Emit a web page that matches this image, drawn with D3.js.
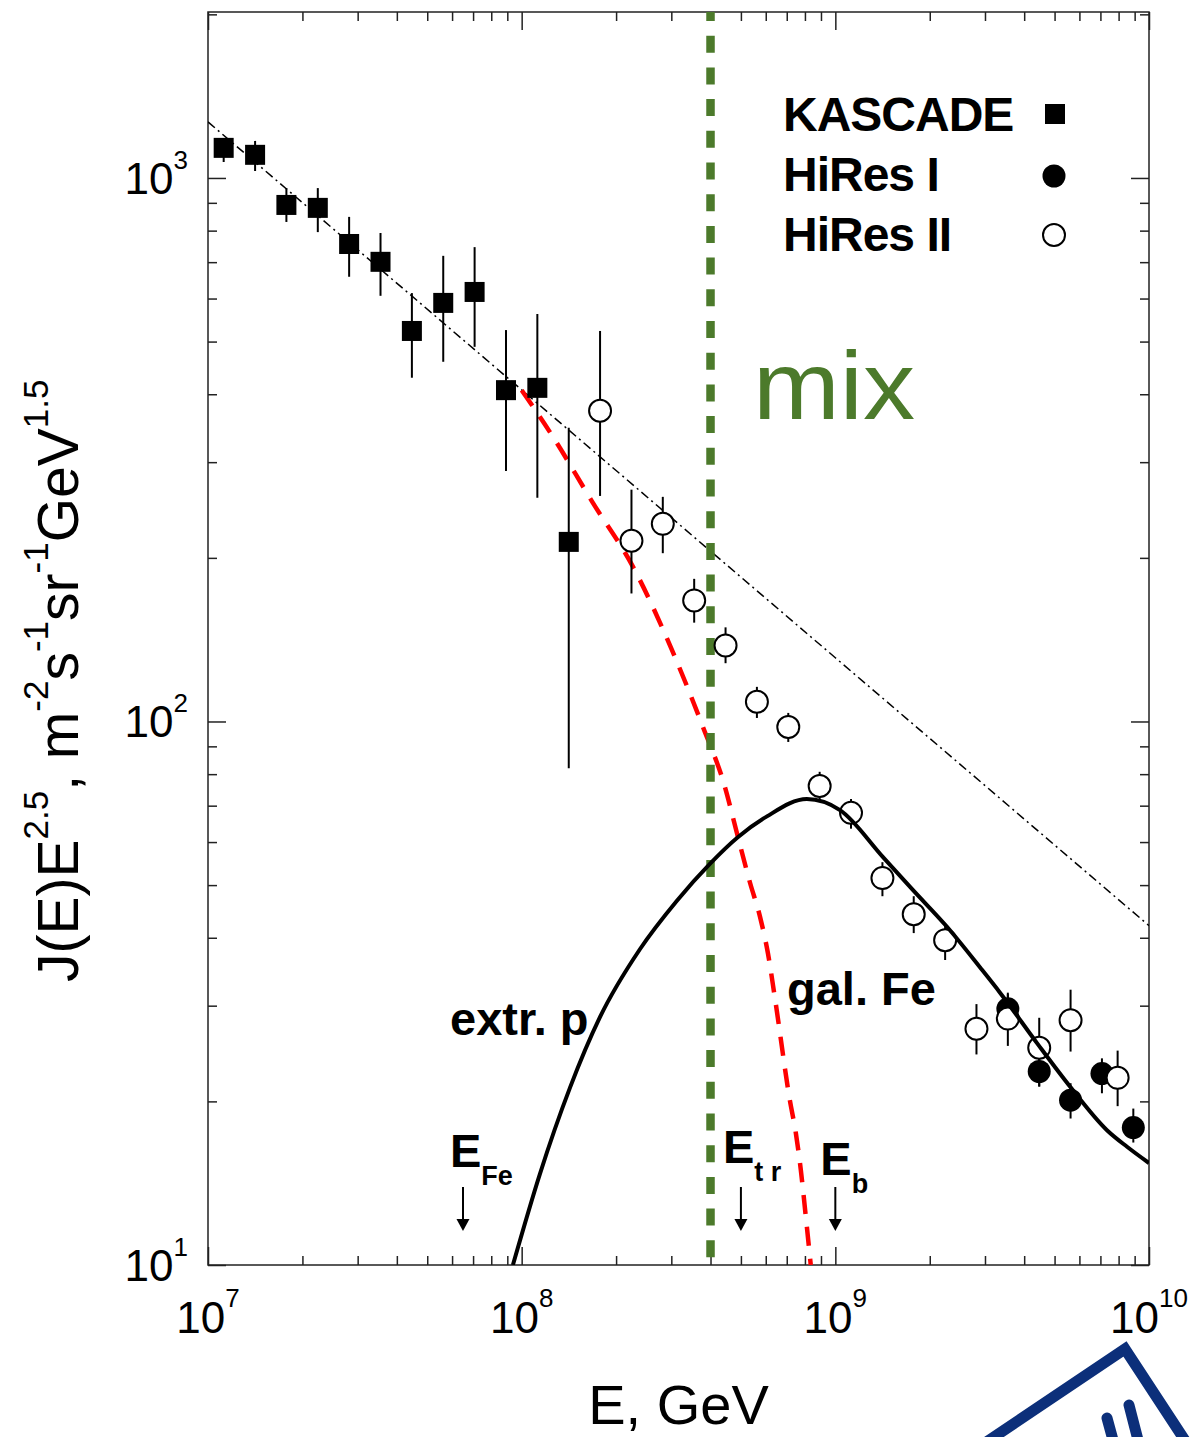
<!DOCTYPE html>
<html>
<head>
<meta charset="utf-8">
<script src="https://cdn.jsdelivr.net/npm/d3@7"></script>
<style>
  body { margin: 0; background: #fff; }
  svg { display: block; }
  text { font-family: "Liberation Sans", Arial, Helvetica, sans-serif; }
</style>
</head>
<body>
<svg width="1194" height="1437"></svg>
<script>
// ---- data (E in GeV, J(E)E^2.5) ----
const kascadeE = [1.122e7, 1.413e7, 1.778e7, 2.239e7, 2.818e7, 3.548e7, 4.467e7, 5.623e7, 7.079e7, 8.913e7, 1.122e8, 1.413e8]
const kascadeJ = [1136, 1103, 892, 881, 756, 701, 523, 589, 617, 407, 411, 214]
const kascadeLo = [1070, 1030, 830, 795, 658, 607, 429, 459, 489, 289, 258, 82]
const kascadeHi = [1180, 1170, 958, 958, 848, 792, 614, 719, 746, 525, 562, 347]

const hires1E = [3.548e9, 4.467e9, 5.623e9, 7.079e9, 8.913e9]
const hires1J = [29.6, 22.7, 20.1, 22.5, 17.9]
const hires1Lo = [27.4, 21.3, 18.6, 20.7, 16.8]
const hires1Hi = [31.7, 24.1, 21.6, 24.0, 19.4]

const hires2E = [1.778e8, 2.239e8, 2.818e8, 3.548e8, 4.467e8, 5.623e8, 7.079e8, 8.913e8, 1.122e9,
  1.413e9, 1.778e9, 2.239e9, 2.818e9, 3.548e9, 4.467e9, 5.623e9, 7.943e9]
const hires2J = [373, 215, 231, 167, 138, 108.7, 97.7, 76.1, 67.9, 51.5, 44.2, 39.6, 27.2, 28.4, 25.1, 28.2, 22.1]
const hires2Lo = [260, 172, 204, 152, 128, 101.5, 91.7, 71.7, 63.5, 47.7, 40.8, 36.4, 24.4, 25.3, 21.3, 24.7, 19.6]
const hires2Hi = [523, 267, 259, 183, 149, 115.8, 103.7, 80.8, 72.0, 55.1, 47.7, 42.2, 30.2, 31.5, 28.5, 32.1, 24.8]

// dash-dot power law
const plE = [1e7, 1e8, 1e9, 1e10]
const plJ = [1268, 407.5, 131.0, 42.1]

// galactic iron (red dashed)
const feE = [1.0e8, 1.259e8, 1.687e8, 2.265e8, 3.013e8, 3.784e8, 4.446e8, 4.853e8, 5.346e8, 5.754e8,
  6.095e8, 6.412e8, 7.161e8, 7.482e8, 7.762e8, 8.054e8, 8.35e8]
const feJ = [407, 333.8, 252.5, 192.5, 135.4, 97.7, 75.8, 62.4, 50.5, 43.7, 37.5, 31.1, 20.1, 17.5, 14.96, 12.25, 10.0]

// extragalactic protons (black solid)
const pE = [9.376e7, 1.143e8, 1.426e8, 1.778e8, 2.382e8, 3.126e8, 3.981e8, 4.898e8, 6.053e8, 8.11e8,
  1.035e9, 1.419e9, 1.766e9, 2.27e9, 2.891e9, 3.35e9, 4.395e9, 5.598e9, 7.345e9, 8.511e9, 1e10]
const pJ = [10.0, 14.7, 21.2, 28.6, 38.1, 46.8, 54.7, 61.3, 66.9, 72.0, 68.7, 56.3, 49.0, 41.9, 35.3, 31.7,
  25.6, 21.3, 17.7, 16.5, 15.4]

const transitionE = 4e8
const arrowE = [6.5e7, 5e8, 1e9]
const arrowMain = ['E', 'E', 'E']
const arrowSub = ['Fe', 't r', 'b']

const xMajorTicks = [1e7, 1e8, 1e9, 1e10]
const xTickExp = ['7', '8', '9', '10']
const yMajorTicks = [10, 100, 1000]
const yTickExp = ['1', '2', '3']

const legendNames = ['KASCADE', 'HiRes I', 'HiRes II']

// ---- layout ----
const svg = d3.select('svg')
const width = +svg.attr('width')
const height = +svg.attr('height')
const margin = { top: 12, right: 45, bottom: 172, left: 208 }
const innerWidth = width - margin.left - margin.right
const innerHeight = height - margin.top - margin.bottom

const green = '#4c7a2b'

const x = d3.scaleLog().domain([1e7, 1e10]).range([0, innerWidth])
const y = d3.scaleLog().domain([10, 2020]).range([innerHeight, 0])

const minorOf = ticks => {
  const out = []
  ticks.slice(0, -1).forEach(t => { for (let k = 2; k <= 9; k++) out.push(t * k) })
  return out
}
const xMinor = minorOf(xMajorTicks)
const yMinor = minorOf(yMajorTicks.concat([10000])).filter(v => v <= 2020)

const g = svg.append('g').attr('transform', 'translate(' + margin.left + ',' + margin.top + ')')

svg.append('defs').append('clipPath').attr('id', 'plot')
  .append('rect').attr('width', innerWidth).attr('height', innerHeight)

// ---- ticks (inward on all four sides) ----
const tickAxis = (axis, scale, values, size, transform) => {
  const a = g.append('g').attr('transform', transform || null)
    .call(axis(scale).tickValues(values).tickSize(-size).tickFormat(''))
  a.select('.domain').remove()
  a.selectAll('line').attr('stroke', '#222').attr('stroke-width', 1.5)
}
tickAxis(d3.axisBottom, x, xMajorTicks, 18, 'translate(0,' + innerHeight + ')')
tickAxis(d3.axisBottom, x, xMinor, 9, 'translate(0,' + innerHeight + ')')
tickAxis(d3.axisTop, x, xMajorTicks, 18)
tickAxis(d3.axisTop, x, xMinor, 9)
tickAxis(d3.axisLeft, y, yMajorTicks, 18)
tickAxis(d3.axisLeft, y, yMinor, 9)
tickAxis(d3.axisRight, y, yMajorTicks, 18, 'translate(' + innerWidth + ',0)')
tickAxis(d3.axisRight, y, yMinor, 9, 'translate(' + innerWidth + ',0)')

g.append('rect').attr('width', innerWidth).attr('height', innerHeight)
  .attr('fill', 'none').attr('stroke', '#222').attr('stroke-width', 1.5)

// tick labels
const xl = g.append('g').selectAll('text').data(xMajorTicks).join('text')
  .attr('x', d => x(d)).attr('y', innerHeight + 68)
  .attr('text-anchor', 'middle').attr('font-size', 44)
xl.append('tspan').text('10')
xl.append('tspan').attr('dy', -26).attr('font-size', 26).text((d, i) => xTickExp[i])

const yl = g.append('g').selectAll('text').data(yMajorTicks).join('text')
  .attr('x', -20).attr('y', d => y(d) + 16)
  .attr('text-anchor', 'end').attr('font-size', 44)
yl.append('tspan').text('10')
yl.append('tspan').attr('dy', -25).attr('font-size', 26).text((d, i) => yTickExp[i])

// axis titles
svg.append('text').attr('x', margin.left + innerWidth / 2).attr('y', 1424)
  .attr('text-anchor', 'middle').attr('font-size', 56).text('E, GeV')

const yTitle = svg.append('text').attr('transform', 'translate(78,982) rotate(-90)').attr('font-size', 57)
const titleParts = [['J(E)E', 0], ['2.5', 1], [', m', 0], ['-2', 1], ['s', 0], ['-1', 1], ['sr', 0], ['-1', 1], ['GeV', 0], ['1.5', 1]]
let raised = false
titleParts.forEach(([t, sup]) => {
  const ts = yTitle.append('tspan').text(t)
  if (sup) { ts.attr('font-size', 35).attr('dy', raised ? 0 : -30); raised = true }
  else { ts.attr('dy', raised ? 30 : 0); raised = false }
})

// ---- curves ----
const plot = g.append('g').attr('clip-path', 'url(#plot)')

const line = d3.line().x(d => x(d[0])).y(d => y(d[1]))

plot.append('path')
  .datum(plE.map((e, i) => [e, plJ[i]]))
  .attr('d', line)
  .attr('fill', 'none').attr('stroke', '#000').attr('stroke-width', 1.5)
  .attr('stroke-dasharray', '9,4,2,4')

plot.append('path')
  .datum(feE.map((e, i) => [e, feJ[i]]))
  .attr('d', line.curve(d3.curveMonotoneX))
  .attr('fill', 'none').attr('stroke', '#ff0000').attr('stroke-width', 4.5)
  .attr('stroke-dasharray', '19,13')

plot.append('line')
  .attr('x1', x(transitionE)).attr('x2', x(transitionE))
  .attr('y1', 0).attr('y2', innerHeight)
  .attr('stroke', green).attr('stroke-width', 8.5)
  .attr('stroke-dasharray', '17,14.7').attr('stroke-dashoffset', 8)

// ---- data points ----
const errBars = (E, lo, hi) => {
  plot.append('g').selectAll('line').data(E).join('line')
    .attr('x1', d => x(d)).attr('x2', d => x(d))
    .attr('y1', (d, i) => y(lo[i])).attr('y2', (d, i) => y(hi[i]))
    .attr('stroke', '#000').attr('stroke-width', 2)
}

errBars(kascadeE, kascadeLo, kascadeHi)
plot.append('g').selectAll('rect').data(kascadeE).join('rect')
  .attr('x', d => x(d) - 10).attr('y', (d, i) => y(kascadeJ[i]) - 10)
  .attr('width', 20).attr('height', 20).attr('fill', '#000')

errBars(hires1E, hires1Lo, hires1Hi)
plot.append('g').selectAll('circle').data(hires1E).join('circle')
  .attr('cx', d => x(d)).attr('cy', (d, i) => y(hires1J[i])).attr('r', 11.5).attr('fill', '#000')

errBars(hires2E, hires2Lo, hires2Hi)
plot.append('g').selectAll('circle').data(hires2E).join('circle')
  .attr('cx', d => x(d)).attr('cy', (d, i) => y(hires2J[i])).attr('r', 11)
  .attr('fill', '#fff').attr('stroke', '#000').attr('stroke-width', 2)

plot.append('path')
  .datum(pE.map((e, i) => [e, pJ[i]]))
  .attr('d', line.curve(d3.curveMonotoneX))
  .attr('fill', 'none').attr('stroke', '#000').attr('stroke-width', 4)

// ---- legend ----
const leg = svg.append('g')
legendNames.forEach((name, i) => {
  leg.append('text').attr('x', 783).attr('y', 131 + i * 60)
    .attr('font-size', 48).attr('font-weight', 'bold').attr('letter-spacing', -1).text(name)
})
leg.append('rect').attr('x', 1045).attr('y', 104).attr('width', 20).attr('height', 20).attr('fill', '#000')
leg.append('circle').attr('cx', 1054).attr('cy', 176).attr('r', 11.5).attr('fill', '#000')
leg.append('circle').attr('cx', 1054).attr('cy', 235).attr('r', 11)
  .attr('fill', '#fff').attr('stroke', '#000').attr('stroke-width', 2)

// ---- annotations ----
svg.append('text').attr('x', 753).attr('y', 419).attr('font-family', '"Open Sans", "DejaVu Sans", sans-serif')
  .attr('font-size', 96).attr('textLength', 162).attr('lengthAdjust', 'spacingAndGlyphs')
  .attr('fill', green).text('mix')

svg.append('text').attr('x', 450).attr('y', 1035).attr('font-size', 47).attr('font-weight', 'bold').text('extr. p')
svg.append('text').attr('x', 787).attr('y', 1005).attr('font-size', 47).attr('font-weight', 'bold').text('gal. Fe')

const labelShift = [[-13, 1167], [-18, 1163], [-15, 1175]]
arrowE.forEach((e, i) => {
  const ax = margin.left + x(e)
  svg.append('line').attr('x1', ax).attr('x2', ax).attr('y1', 1187).attr('y2', 1222)
    .attr('stroke', '#000').attr('stroke-width', 2)
  svg.append('path').attr('d', `M${ax - 6.5},1219 L${ax + 6.5},1219 L${ax},1231 Z`).attr('fill', '#000')
  const t = svg.append('text').attr('x', ax + labelShift[i][0]).attr('y', labelShift[i][1])
    .attr('font-weight', 'bold').attr('font-size', 47)
  t.append('tspan').text(arrowMain[i])
  t.append('tspan').attr('dy', 18).attr('font-size', 27).text(arrowSub[i])
})

// ---- logo fragment in the corner ----
svg.append('path').attr('d', 'M985,1443 L1125,1349 L1186,1442')
  .attr('fill', 'none').attr('stroke', '#0c2f7a').attr('stroke-width', 11)
svg.append('path').attr('d', 'M1107,1418 L1113,1440 M1129,1405 L1138,1440')
  .attr('fill', 'none').attr('stroke', '#0c2f7a').attr('stroke-width', 11).attr('stroke-linecap', 'round')
</script>
</body>
</html>
